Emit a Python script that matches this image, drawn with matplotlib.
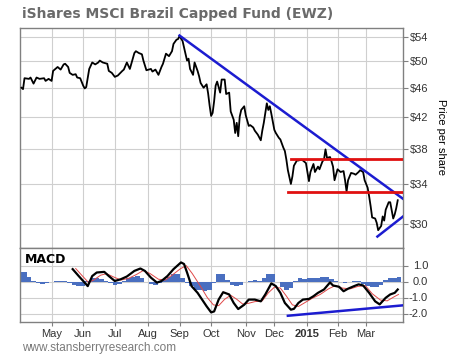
import numpy as np
import matplotlib
matplotlib.use("Agg")
import matplotlib.pyplot as plt

plt.rcParams["font.family"] = ["Liberation Sans", "DejaVu Sans"]

# trading days per month, Apr 2014 .. Mar 2015
month_days = [21, 21, 21, 22, 21, 21, 23, 19, 22, 20, 19, 22]
month_labels = ["May", "Jun", "Jul", "Aug", "Sep", "Oct", "Nov", "Dec", "2015", "Feb", "Mar"]

# EWZ closing price (x = trading day since Apr 1 2014)
price_day = [1, 2, 3, 6, 7, 9, 11, 13, 16, 17, 19, 21, 22, 23, 25, 27, 29, 30, 32, 33,
             35, 37, 38, 40, 42, 43, 44, 46, 48, 50, 52, 53, 55, 58, 59, 61, 63, 65, 68, 69,
             71, 73, 76, 77, 79, 81, 82, 84, 87, 88, 90, 92, 94, 95, 97, 99, 101, 102, 104, 105,
             106, 108, 109, 110, 111, 112, 113, 115, 116, 118, 119, 120, 122, 124, 125, 126, 127, 128, 129, 130,
             131, 133, 134, 136, 137, 139, 140, 142, 143, 144, 145, 146, 147, 149, 150, 152, 153, 155, 156, 158,
             160, 161, 162, 164, 165, 166, 167, 169, 170, 172, 173, 175, 176, 177, 178, 180, 181, 182, 184, 185,
             187, 188, 190, 192, 193, 195, 196, 198, 199, 201, 202, 203, 204, 206, 207, 208, 209, 211, 213, 215,
             216, 217, 218, 220, 222, 223, 225, 226, 228, 229, 231, 232, 233, 234, 236, 237, 238, 240, 241, 242,
             243, 245, 246, 248, 249, 250, 251]
price = [46.0, 45.8, 47.4, 47.3, 47.5, 46.6, 47.5, 47.3, 47.4, 47.0, 47.3, 47.0, 48.5, 48.7, 49.1, 48.7, 49.5, 49.6, 49.1, 48.2,
         47.9, 48.0, 47.5, 47.4, 46.3, 45.9, 46.1, 48.8, 49.8, 49.5, 49.8, 50.1, 49.8, 49.6, 48.5, 48.2, 47.6, 47.8, 48.5, 48.7,
         49.8, 48.8, 51.3, 51.6, 51.3, 51.1, 50.1, 48.6, 48.8, 48.4, 48.7, 47.9, 49.1, 49.6, 51.2, 50.8, 51.6, 52.8, 53.5, 53.6,
         54.1, 53.3, 52.2, 51.1, 50.1, 50.4, 48.8, 47.9, 49.8, 48.5, 47.7, 46.7, 46.0, 46.5, 45.2, 43.5, 42.1, 42.5, 44.1, 46.3,
         46.9, 45.3, 47.2, 47.2, 45.1, 45.3, 42.7, 41.6, 39.9, 41.2, 39.5, 42.0, 42.9, 43.4, 42.2, 40.8, 40.9, 40.6, 40.2, 39.7,
         39.0, 40.2, 41.2, 43.8, 42.9, 43.4, 42.4, 40.3, 39.9, 39.3, 39.1, 38.1, 37.7, 36.7, 35.5, 34.0, 34.8, 36.0, 36.6, 36.6,
         36.7, 36.6, 36.3, 34.3, 35.3, 36.2, 35.3, 35.9, 35.6, 36.5, 36.7, 37.9, 36.9, 37.0, 36.5, 35.9, 34.4, 35.6, 35.3, 35.4,
         34.4, 33.2, 34.4, 35.2, 35.1, 35.0, 35.3, 35.5, 35.3, 34.4, 33.6, 32.7, 31.7, 30.6, 30.5, 30.1, 29.4, 29.8, 30.7, 30.3,
         31.35, 32.1, 32.1, 30.5, 30.9, 31.5, 32.3]

# trend lines drawn on the chart (day, price)
down_day = [106, 254.5]
down_price = [54.2, 32.45]
low_day = [237.5, 254.5]
low_price = [28.82, 30.69]
res_day = [180, 254.5]
res_price = [36.8, 36.8]
sup_day = [178, 254.5]
sup_price = [33.1, 33.1]

# MACD line
macd_day = [35, 39, 44, 45, 48, 51, 56, 59, 63, 67, 71, 76, 80, 83, 87, 91, 94, 98, 102, 107,
            109, 111, 114, 118, 121, 124, 127, 129, 132, 135, 139, 142, 145, 149, 152, 156, 160, 163, 167, 170,
            173, 176, 180, 182, 185, 188, 192, 195, 198, 202, 206, 208, 212, 215, 218, 222, 225, 228, 232, 236,
            239, 243, 246, 249, 251]
macd = [0.78, 0.35, -0.17, -0.28, 0.35, 0.57, 0.61, 0.35, 0.04, 0.15, 0.32, 0.67, 0.82, 0.67, 0.25, -0.06, 0.04, 0.35, 0.78, 1.2,
        1.1, 0.57, -0.28, -0.7, -1.12, -1.54, -1.92, -1.86, -1.12, -0.66, -0.8, -1.33, -1.71, -1.44, -1.12, -1.12, -1.23, -0.8, -0.11, -0.28,
        -0.7, -1.33, -1.75, -1.7, -1.33, -1.12, -1.08, -0.91, -0.7, -0.49, -0.05, -0.24, -0.32, -0.6, -0.44, -0.28, -0.17, -0.24, -0.7, -1.23,
        -1.42, -1.01, -0.8, -0.7, -0.49]

# signal line
signal_day = [37, 41.5, 45.5, 49, 53.5, 57.5, 62, 67, 72, 77.5, 82, 86.5, 92, 96.5, 101, 106.5, 110.5, 114.5, 120, 124.5,
              128.5, 132, 136, 140, 144, 148, 152, 156, 161, 165, 169, 173, 177, 181, 185, 189.5, 194, 199.5, 205, 209.5,
              214, 219.5, 224.5, 229.5, 234, 239.5, 244, 248.5, 251.5]
signal = [0.82, 0.35, -0.05, 0.1, 0.4, 0.5, 0.3, 0.1, 0.2, 0.45, 0.7, 0.5, 0.15, 0.1, 0.4, 0.8, 1.0, 0.5, -0.3, -1.0,
          -1.45, -1.5, -1.1, -0.85, -1.1, -1.4, -1.35, -1.25, -1.2, -0.7, -0.35, -0.4, -0.9, -1.45, -1.55, -1.3, -1.05, -0.8, -0.45, -0.25,
          -0.4, -0.45, -0.3, -0.25, -0.75, -1.15, -1.2, -0.95, -0.8]

# histogram, every 3rd trading day starting at day 0
hist = [0.6, 0.6, 0.3, 0.05, -0.1, -0.12, -0.08, -0.05, 0.02, 0.05, 0.02, -0.1, -0.2, -0.28, -0.25, 0.05, 0.2, 0.25, 0.15, 0.05,
        -0.1, -0.2, -0.12, 0.05, 0.2, 0.3, 0.35, 0.2, 0.0, -0.15, -0.2, -0.1, 0.15, 0.3, 0.45, 0.5, 0.25, -0.1, -0.3, -0.5,
        -0.55, -0.6, -0.55, -0.1, 0.45, 0.5, 0.1, -0.2, -0.3, -0.2, -0.05, 0.05, 0.08, 0.05, 0.2, 0.5, 0.45, -0.05, -0.35, -0.5,
        -0.4, 0.05, 0.2, 0.15, 0.2, 0.25, 0.22, 0.3, 0.3, 0.15, 0.05, -0.05, -0.1, -0.05, 0.02, 0.05, -0.15, -0.3, -0.35, -0.35,
        -0.2, 0.1, 0.2, 0.2, 0.3]

# divergence line in MACD panel
macd_trend_day = [178, 254.5]
macd_trend = [-2.13, -1.48]

macd_ticks = [1, 0, -1, -2]
macd_ticklabels = ["1.0", "0.0", "-1.0", "-2.0"]

month_starts = np.cumsum(month_days)[:-1]
hist_day = np.arange(len(hist)) * 3

grid_c = "#cfcfcf"
spine_c = "#808080"
blue = "#1c1cd0"
red = "#e01010"

fig = plt.figure(figsize=(4.53, 3.56), dpi=100)
ax = fig.add_axes([20 / 453, 1 - 248 / 356, 383 / 453, 220 / 356])
ax2 = fig.add_axes([20 / 453, 1 - 322 / 356, 383 / 453, 74 / 356], sharex=ax)

# price panel
ax.plot(price_day, price, color="black", lw=1.3, zorder=3)
ax.plot(down_day, down_price, color=blue, lw=1.8, zorder=4)
ax.plot(low_day, low_price, color=blue, lw=1.8, zorder=4)
ax.plot(res_day, res_price, color=red, lw=2, zorder=4)
ax.plot(sup_day, sup_price, color=red, lw=2, zorder=4)

ax.set_yscale("log")
ax.set_ylim(27.8, 55.5)
yt = [30, 34, 38, 42, 46, 50, 54]
ax.set_yticks(yt)
ax.set_yticklabels([r"\$%d" % v for v in yt])
ax.yaxis.set_minor_locator(matplotlib.ticker.NullLocator())
ax.yaxis.tick_right()
ax.tick_params(axis="y", which="major", length=3.6, width=0.8, color=spine_c, pad=1.5,
               labelsize=8, labelcolor="#333333")
ax.tick_params(axis="x", length=0, labelbottom=False)
fig.text(441 / 453, 1 - 137 / 356, "Price per share", rotation=-90, fontsize=8,
         va="center", ha="center")

# MACD panel
ax2.bar(hist_day, hist, width=3, color="#4a6fc0", edgecolor="none", zorder=2)
ax2.plot(signal_day, signal, color="#e04848", lw=0.7, zorder=3)
ax2.plot(macd_day, macd, color="black", lw=1.6, zorder=4)
ax2.plot(macd_trend_day, macd_trend, color=blue, lw=1.8, zorder=5)
ax2.set_ylim(-2.52, 2.1)
ax2.set_yticks(macd_ticks)
ax2.yaxis.tick_right()
ax2.tick_params(axis="y", length=3.6, width=0.8, color=spine_c, labelright=False)
ytr = ax2.get_yaxis_transform()
for v, lab in zip(macd_ticks, macd_ticklabels):
    ax2.text(1 + 25 / 383, v, lab, transform=ytr, fontsize=8, color="#333333",
             ha="right", va="center")
ax2.text(0.012, 0.93, "MACD", transform=ax2.transAxes, fontsize=9, fontweight="bold",
         family="DejaVu Sans", va="top", ha="left")

ax2.set_xticks(month_starts)
ax2.set_xticklabels(month_labels)
ax2.tick_params(axis="x", length=3, width=0.8, color=spine_c, pad=2, labelsize=8,
                labelcolor="#333333")
for t in ax2.get_xticklabels():
    if t.get_text() == "2015":
        t.set_fontweight("bold")
ax2.set_xlim(0, 254.5)

for a in (ax, ax2):
    a.grid(True, color=grid_c, lw=0.8, zorder=0)
    a.set_axisbelow(True)
    for s in a.spines.values():
        s.set_color(spine_c)
        s.set_linewidth(1.0)

fig.text(22 / 453, 1 - 14 / 356, "iShares MSCI Brazil Capped Fund (EWZ)", fontsize=10,
         fontweight="bold", family="DejaVu Sans", color="#6a6a6a", va="center", ha="left")
fig.text(22 / 453, 1 - 348 / 356, "www.stansberryresearch.com", fontsize=8.5,
         color="#7a7a7a", va="center", ha="left")

fig.savefig("out.png", dpi=100)
